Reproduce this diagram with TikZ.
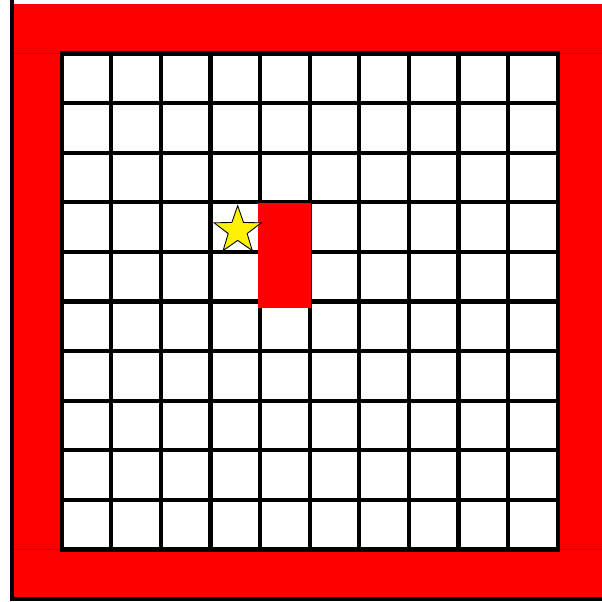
\documentclass[tikz,border=0pt]{standalone}
\usetikzlibrary{shapes.geometric}
\tikzset{
  wall/.style={fill=red, draw=none},
  walledge/.style={draw=red!80!black, line width=0.4pt},
  cell/.style={fill=white, draw=black, line width=2.4pt},
  block/.style={fill=red, draw=none},
  goal/.style={star, star points=5, star point ratio=2.5, draw=black, line width=0.5pt, fill=yellow, minimum size=1cm, inner sep=0pt},
  border/.style={draw=black, line width=2pt}
}

\begin{document}
\begin{tikzpicture}
  \useasboundingbox (-0.242,-0.06) rectangle (11.895,12.077);

  % outer wall
  \fill[wall] (0,0) rectangle (12,12);
  \draw[walledge] (0,11) -- (12,11);
  \draw[walledge] (0,1) -- (12,1);
  \draw[walledge] (1,1) -- (1,11);
  \draw[walledge] (11,1) -- (11,11);

  % free cells
  \foreach \x in {1,...,10}
    \foreach \y in {1,...,10}
      \draw[cell] (\x,\y) rectangle ++(1,1);

  % obstacle and goal
  \fill[block] (4.95,5.87) rectangle (6.03,7.98);
  \node (goal) [goal] at (4.55,7.43) {};

  \draw[border] (0,12.08) -- (0,0) -- (12,0);
\end{tikzpicture}
\end{document}
